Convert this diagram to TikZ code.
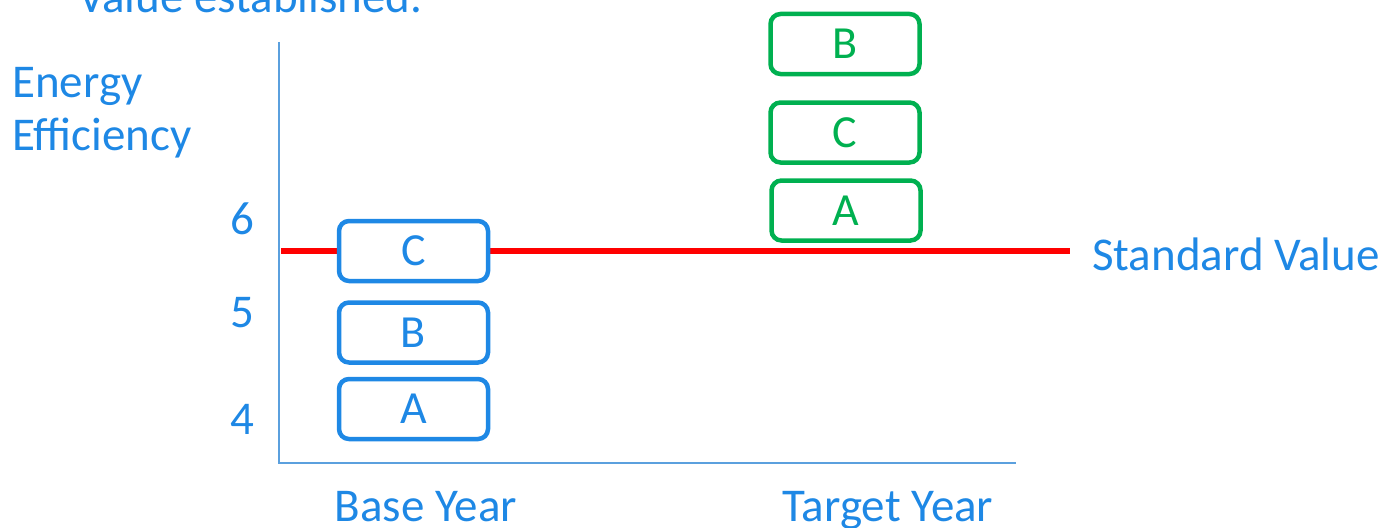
\documentclass[tikz,border=0pt]{standalone}
\usepackage{fontspec}
\setmainfont{Carlito}
\definecolor{tblue}{RGB}{30,136,229}
\definecolor{taxis}{RGB}{91,160,222}
\definecolor{tgreen}{RGB}{0,176,80}
\definecolor{tred}{RGB}{255,0,0}
\begin{document}
\begin{tikzpicture}[x=1pt,y=-1pt,
  lbl/.style={text=tblue,font=\fontsize{47pt}{52pt}\selectfont,inner sep=0pt},
  bbox/.style={draw=tblue,line width=4.5pt,rounded corners=10pt,fill=white,
    minimum width=149pt,minimum height=60pt,inner sep=0pt,text=tblue,
    font=\fontsize{46pt}{50pt}\selectfont},
  gbox/.style={bbox,draw=tgreen,text=tgreen}]
\useasboundingbox (0,0) rectangle (1388,527);
% axes
\coordinate (top) at (279,42);
\coordinate (orig) at (279,463);
\coordinate (xend) at (1016,463);
\draw[taxis,line width=2pt] (top) -- (orig) -- (xend);
% standard value line
\coordinate (rs) at (281,251);
\coordinate (re) at (1070,251);
\draw[tred,line width=5.5pt] (rs) -- (re);
\node[lbl,anchor=base west] (std) at (1092,270) {Standard Value};
% title (cut)
\node[lbl,anchor=base west] (title) at (78,13) {Value established.};
% y label
\node[lbl,anchor=base west] (en) at (12,97) {Energy};
\node[lbl,anchor=base west] (ef) at (12,150) {Efficiency};
\node[lbl,anchor=base] (t6) at (242,234) {6};
\node[lbl,anchor=base] (t5) at (242,327) {5};
\node[lbl,anchor=base] (t4) at (242,434) {4};
% x labels
\node[lbl,anchor=base] (by) at (426,521) {Base Year};
\node[lbl,anchor=base] (ty) at (888,521) {Target Year};
% boxes
\node[bbox] (bc) at (413.5,251) {C};
\node[bbox] (bb) at (413.5,332.5) {B};
\node[bbox] (ba) at (413.5,409) {A};
\node[gbox] (gb) at (845,44) {B};
\node[gbox] (gc) at (845,132.5) {C};
\node[gbox] (ga) at (846,210.5) {A};
\end{tikzpicture}
\end{document}
